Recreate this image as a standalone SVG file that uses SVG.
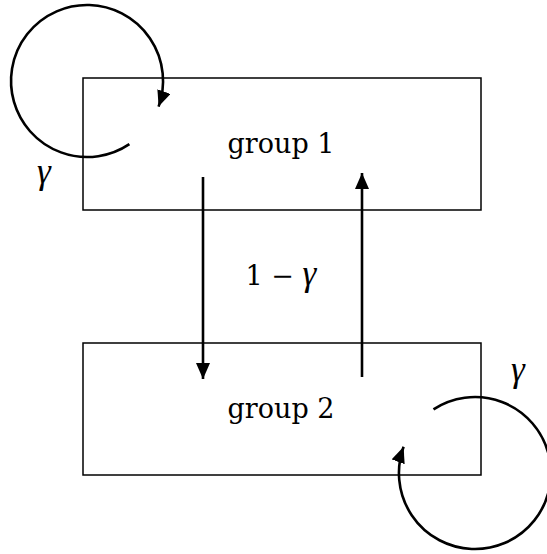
<svg xmlns="http://www.w3.org/2000/svg" width="547" height="554" viewBox="0 0 547 554">
<style>
.box{fill:none;stroke:#000;stroke-width:1.5}
.edge{fill:none;stroke:#000;stroke-width:2.6}
.lbl{font-family:"DejaVu Serif","Liberation Serif",serif;font-size:27px;fill:#000;text-anchor:middle}
.math{font-family:"Liberation Serif","DejaVu Serif",serif;font-size:35px;fill:#000;text-anchor:middle;font-style:italic}
</style>
<defs>
<marker id="ah" markerUnits="userSpaceOnUse" markerWidth="18" markerHeight="15" refX="16" refY="7" orient="auto" viewBox="0 0 18 15">
<path d="M0,0 L16,7 L0,14 Z" fill="#000"/>
</marker>
</defs>
<rect width="547" height="554" fill="#fff"/>
<g id="group1">
<rect class="box" x="83" y="78" width="398" height="132"/>
<text class="lbl" x="281" y="153">group 1</text>
</g>
<g id="group2">
<rect class="box" x="83" y="343" width="398" height="132"/>
<text class="lbl" x="281" y="418">group 2</text>
</g>
<g id="connectors">
<path class="edge" d="M203,177 L203,379" marker-end="url(#ah)"/>
<path class="edge" d="M362,377 L362,173" marker-end="url(#ah)"/>
<path class="edge" d="M129.4,144.1 A76,76 0 1 1 158.6,106.6" marker-end="url(#ah)"/>
<path class="edge" d="M433.5,409.3 A76,76 0 1 1 403.6,446.8" marker-end="url(#ah)"/>
</g>
<g id="labels">
<text class="math" x="44" y="183">γ</text>
<text class="math" x="518" y="381">γ</text>
<text class="math" x="281" y="285"><tspan font-style="normal" font-family="DejaVu Serif, serif" font-size="27">1 − </tspan>γ</text>
</g>
</svg>
